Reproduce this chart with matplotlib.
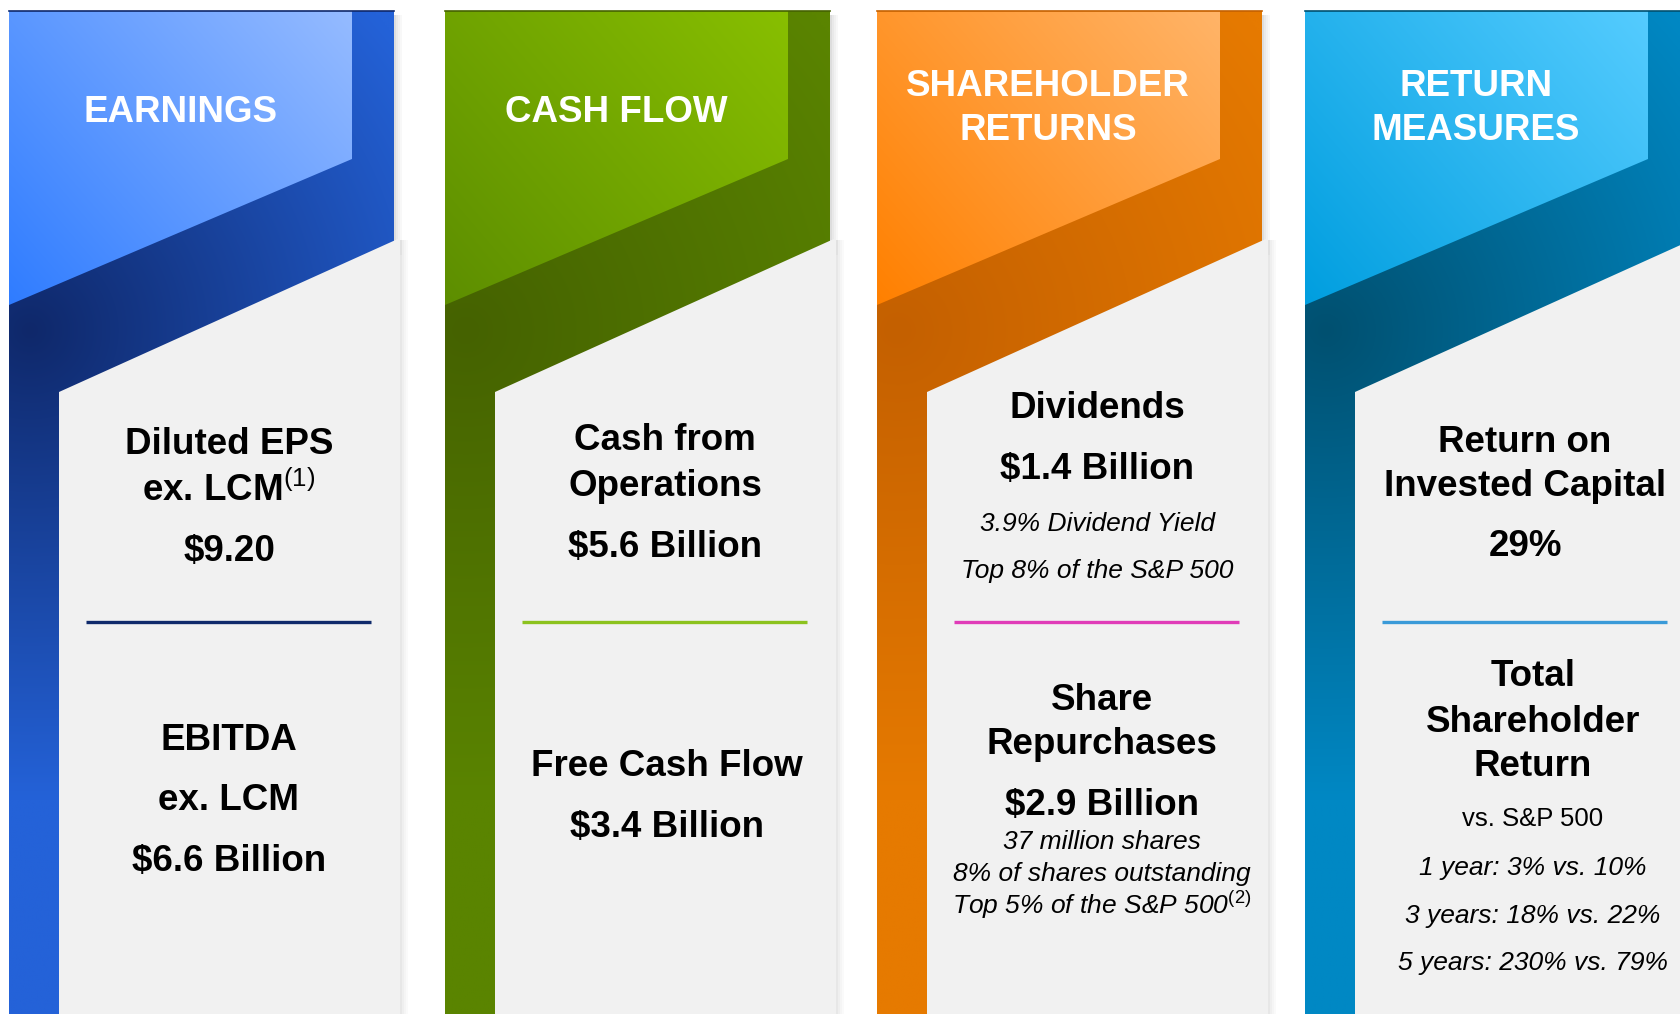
import numpy as np
import matplotlib.pyplot as plt
from matplotlib.patches import Polygon, Rectangle
from matplotlib.colors import to_rgb

plt.rcParams["font.family"] = ["Liberation Sans", "DejaVu Sans"]
plt.rcParams["mathtext.fontset"] = "custom"
plt.rcParams["mathtext.rm"] = "Liberation Sans"
plt.rcParams["mathtext.it"] = "Liberation Sans:italic"

# panel titles and colours
titles = [["EARNINGS"], ["CASH FLOW"], ["SHAREHOLDER", "RETURNS"], ["RETURN", "MEASURES"]]
light_lo = ["#2f7cff", "#5d8e00", "#ff8000", "#009edf"]
light_hi = ["#95bbff", "#88bf00", "#ffb468", "#55ccff"]
dark_lo = ["#0f286a", "#456200", "#c46000", "#005070"]
dark_hi = ["#2462d8", "#5a8400", "#e67a00", "#0088c4"]
rule_colors = ["#0f2a6b", "#8cc21e", "#e03cb8", "#3a9ad8"]

# panel text: (text, style) ; b = bold heading, i = italic note, r = regular
upper_text = [
    [("Diluted EPS", "b"), (r"ex. LCM$^{\mathrm{(1)}}$", "b"), ("$9.20", "b")],
    [("Cash from", "b"), ("Operations", "b"), ("$5.6 Billion", "b")],
    [("Dividends", "b"), ("$1.4 Billion", "b"), ("3.9% Dividend Yield", "i"),
     ("Top 8% of the S&P 500", "i")],
    [("Return on", "b"), ("Invested Capital", "b"), ("29%", "b")],
]
lower_text = [
    [("EBITDA", "b"), ("ex. LCM", "b"), ("$6.6 Billion", "b")],
    [("Free Cash Flow", "b"), ("$3.4 Billion", "b")],
    [("Share", "b"), ("Repurchases", "b"), ("$2.9 Billion", "b"),
     ("37 million shares", "i"), ("8% of shares outstanding", "i"),
     (r"Top 5% of the S&P 500$^{\mathit{(2)}}$", "i")],
    [("Total", "b"), ("Shareholder", "b"), ("Return", "b"), ("vs. S&P 500", "r"),
     ("1 year: 3% vs. 10%", "i"), ("3 years: 18% vs. 22%", "i"),
     ("5 years: 230% vs. 79%", "i")],
]

# layout (pixel space)
W, H = 1680, 1014
x_left = [9, 445, 877, 1305]
lower_dx = [0, 2, 5, 8]
upper_y = [[444, 490, 552], [441, 486, 547], [409, 470, 524, 571], [442, 486, 547]]
lower_y = [[740, 801, 862], [766, 827], [700, 745, 805, 842, 874, 905],
           [677, 722, 767, 819, 868, 916, 963]]
title_y = {1: [113], 2: [87, 131]}
styles = {"b": dict(fontsize=26.5, fontweight="bold"),
          "i": dict(fontsize=19, fontstyle="italic"),
          "r": dict(fontsize=18.5)}

fig = plt.figure(figsize=(16.8, 10.14), dpi=100)
ax = fig.add_axes([0, 0, 1, 1])
ax.set_xlim(0, W)
ax.set_ylim(H, 0)
ax.axis("off")


def gradient_fill(poly_xy, c1, c2, tfunc, zorder):
    poly = Polygon(poly_xy, closed=True, facecolor="none", edgecolor="none")
    ax.add_patch(poly)
    xs, ys = np.array(poly_xy).T
    x0, x1, y0, y1 = xs.min(), min(xs.max(), W), ys.min(), ys.max()
    gx, gy = np.meshgrid(np.linspace(x0, x1, 200), np.linspace(y0, y1, 400))
    t = np.clip(tfunc(gx, gy), 0, 1)[..., None]
    img = np.array(to_rgb(c1)) + (np.array(to_rgb(c2)) - np.array(to_rgb(c1))) * t
    im = ax.imshow(img, extent=(x0, x1, y1, y0), origin="upper",
                   interpolation="bilinear", zorder=zorder, aspect="auto")
    im.set_clip_path(poly)


for i, x0 in enumerate(x_left):
    band_w, light_w, gray_l, gray_r = 385, 343, 50, 391
    top = 11

    # soft shadow on the right side
    for k, a in enumerate([0.2, 0.13, 0.08, 0.04]):
        ax.add_patch(Rectangle((x0 + band_w + k * 2, top + 4), 2, 240,
                               color="#555555", alpha=a, lw=0, zorder=1))
        ax.add_patch(Rectangle((x0 + gray_r + k * 2, 240), 2, H - 240,
                               color="#555555", alpha=a * 0.7, lw=0, zorder=1))

    # dark band, shaded outward from the crease
    band = [(x0, top), (x0 + band_w, top), (x0 + band_w, H), (x0, H)]
    cx, cy = x0 + 20, 330
    gradient_fill(band, dark_lo[i], dark_hi[i],
                  lambda gx, gy: np.hypot(gx - cx, gy - cy) / 470, 2)

    # light header block
    light = [(x0, top), (x0 + light_w, top), (x0 + light_w, 159), (x0, 305)]
    ux, uy = light_w, top - 305
    L2 = ux * ux + uy * uy
    gradient_fill(light, light_lo[i], light_hi[i],
                  lambda gx, gy: ((gx - x0) * ux + (gy - 305) * uy) / L2, 3)

    # thin top edge
    ax.plot([x0, x0 + band_w], [top, top], color=dark_lo[i], lw=1.2, zorder=4)

    # grey content card
    ax.add_patch(Polygon([(x0 + gray_l, 392), (x0 + gray_r, 238),
                          (x0 + gray_r, H), (x0 + gray_l, H)],
                         closed=True, facecolor="#f1f1f1", edgecolor="none", zorder=4))

    # title
    tys = title_y[len(titles[i])]
    for line, ty in zip(titles[i], tys):
        ax.text(x0 + 171, ty, line, color="white", fontsize=26.5, fontweight="bold",
                ha="center", va="center", zorder=5)

    # divider
    ax.plot([x0 + 77, x0 + 362], [622, 622], color=rule_colors[i], lw=2.4,
            solid_capstyle="butt", zorder=5)

    cxt = x0 + 220
    for (txt, st), ty in zip(upper_text[i], upper_y[i]):
        ax.text(cxt, ty, txt, color="black", ha="center", va="center",
                zorder=6, **styles[st])
    for (txt, st), ty in zip(lower_text[i], lower_y[i]):
        ax.text(cxt + lower_dx[i], ty, txt, color="black", ha="center", va="center",
                zorder=6, **styles[st])

fig.savefig("out.png", dpi=100, facecolor="white")
